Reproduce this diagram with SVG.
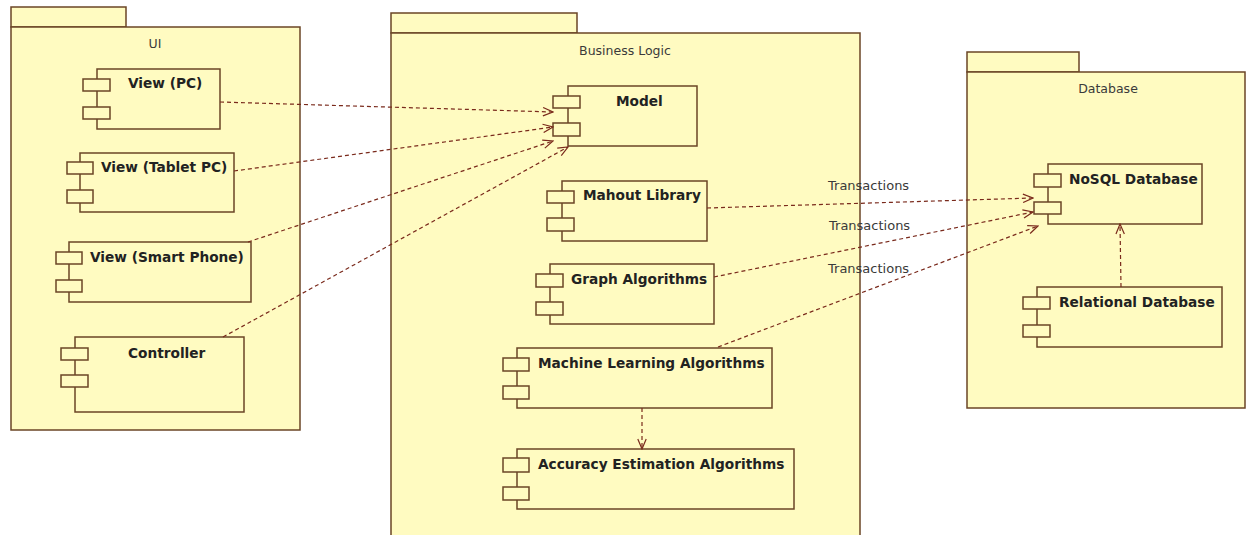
<svg xmlns="http://www.w3.org/2000/svg" width="1251" height="535" viewBox="0 0 1251 535">
<defs>
<style>
.pkg{fill:#fffbc1;stroke:#6b4526;stroke-width:1.5}
.box{fill:#fffbc1;stroke:#6b4526;stroke-width:1.5}
.plabel{font-family:"DejaVu Sans",sans-serif;font-size:12.5px;fill:#3a3a3a}
.clabel{font-family:"DejaVu Sans",sans-serif;font-size:13.7px;font-weight:bold;fill:#222}
.tlabel{font-family:"DejaVu Sans",sans-serif;font-size:13px;fill:#3a3a3a}
.dep{fill:none;stroke:#7a2a1c;stroke-width:1.2;stroke-dasharray:4 3;marker-end:url(#open)}
</style>
<marker id="open" markerWidth="12" markerHeight="10" refX="11" refY="5" orient="auto" markerUnits="userSpaceOnUse">
<path d="M1,0.8 L11,5 L1,9.2" fill="none" stroke="#7a2a1c" stroke-width="1.2"/>
</marker>
</defs>
<rect width="1251" height="535" fill="#ffffff"/>

<g id="pkg-ui">
<rect class="pkg" x="11" y="7" width="115" height="20"/>
<rect class="pkg" x="11" y="27" width="289" height="403"/>
<text class="plabel" x="155" y="48" text-anchor="middle">UI</text>
</g>
<g id="pkg-business">
<rect class="pkg" x="391" y="13" width="186" height="20"/>
<rect class="pkg" x="391" y="33" width="469" height="510"/>
<text class="plabel" x="625" y="55" text-anchor="middle">Business Logic</text>
</g>
<g id="pkg-database">
<rect class="pkg" x="967" y="52" width="112" height="20"/>
<rect class="pkg" x="967" y="72" width="278" height="336"/>
<text class="plabel" x="1108" y="93" text-anchor="middle">Database</text>
</g>

<g id="view-pc">
<rect class="box" x="97" y="69" width="123" height="60"/>
<rect class="box" x="83" y="79" width="27" height="12"/>
<rect class="box" x="83" y="107" width="27" height="12"/>
<text class="clabel" x="128" y="88">View (PC)</text>
</g>
<g id="view-tablet">
<rect class="box" x="80" y="153" width="154" height="59"/>
<rect class="box" x="67" y="162" width="26" height="12"/>
<rect class="box" x="67" y="190" width="26" height="13"/>
<text class="clabel" x="101" y="172">View (Tablet PC)</text>
</g>
<g id="view-smartphone">
<rect class="box" x="69" y="242" width="182" height="60"/>
<rect class="box" x="56" y="252" width="26" height="12"/>
<rect class="box" x="56" y="280" width="26" height="12"/>
<text class="clabel" x="90" y="262">View (Smart Phone)</text>
</g>
<g id="controller">
<rect class="box" x="75" y="337" width="169" height="75"/>
<rect class="box" x="61" y="348" width="27" height="12"/>
<rect class="box" x="61" y="375" width="27" height="12"/>
<text class="clabel" x="128" y="358">Controller</text>
</g>

<g id="model">
<rect class="box" x="568" y="86" width="129" height="60"/>
<rect class="box" x="553" y="96" width="27" height="12"/>
<rect class="box" x="553" y="123" width="27" height="13"/>
<text class="clabel" x="616" y="106">Model</text>
</g>
<g id="mahout">
<rect class="box" x="562" y="181" width="145" height="60"/>
<rect class="box" x="547" y="191" width="27" height="12"/>
<rect class="box" x="547" y="218" width="27" height="13"/>
<text class="clabel" x="583" y="200">Mahout Library</text>
</g>
<g id="graph">
<rect class="box" x="550" y="264" width="164" height="60"/>
<rect class="box" x="536" y="274" width="27" height="13"/>
<rect class="box" x="536" y="302" width="27" height="13"/>
<text class="clabel" x="571" y="284">Graph Algorithms</text>
</g>
<g id="ml">
<rect class="box" x="517" y="348" width="255" height="60"/>
<rect class="box" x="503" y="358" width="26" height="13"/>
<rect class="box" x="503" y="386" width="26" height="13"/>
<text class="clabel" x="538" y="368">Machine Learning Algorithms</text>
</g>
<g id="accuracy">
<rect class="box" x="517" y="449" width="277" height="60"/>
<rect class="box" x="503" y="458" width="26" height="14"/>
<rect class="box" x="503" y="487" width="26" height="13"/>
<text class="clabel" x="538" y="469">Accuracy Estimation Algorithms</text>
</g>

<g id="nosql">
<rect class="box" x="1048" y="164" width="154" height="60"/>
<rect class="box" x="1034" y="174" width="27" height="13"/>
<rect class="box" x="1034" y="202" width="27" height="12"/>
<text class="clabel" x="1069" y="184">NoSQL Database</text>
</g>
<g id="relational">
<rect class="box" x="1037" y="287" width="185" height="60"/>
<rect class="box" x="1023" y="297" width="27" height="12"/>
<rect class="box" x="1023" y="325" width="27" height="12"/>
<text class="clabel" x="1059" y="307">Relational Database</text>
</g>

<g id="connectors">
<path class="dep" d="M220,102 L553,112"/>
<path class="dep" d="M234,171 L553,127"/>
<path class="dep" d="M248,242 L553,141"/>
<path class="dep" d="M223,337 L568,147"/>
<path class="dep" d="M707,208 L1033,198"/>
<path class="dep" d="M714,277 L1033,212"/>
<path class="dep" d="M718,347 L1038,226"/>
<path class="dep" d="M642,408 L642,449"/>
<path class="dep" d="M1121,287 L1120,224"/>
<text class="tlabel" x="828" y="190">Transactions</text>
<text class="tlabel" x="829" y="230">Transactions</text>
<text class="tlabel" x="828" y="273">Transactions</text>
</g>
</svg>
